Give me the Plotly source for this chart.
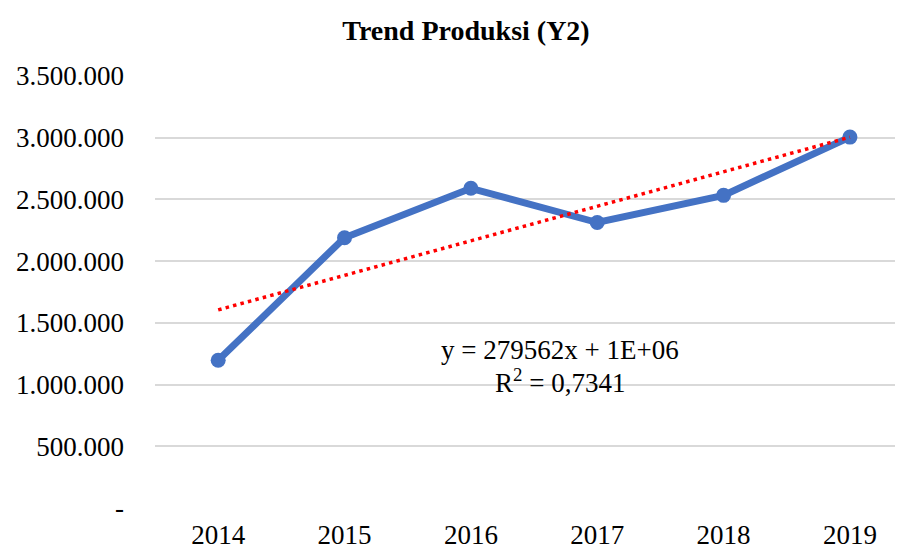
import numpy as np
import plotly.graph_objects as go

years = ["2014", "2015", "2016", "2017", "2018", "2019"]
produksi = [1197000, 2190000, 2590000, 2313000, 2533000, 3005000]
y_tickvals = [0, 500000, 1000000, 1500000, 2000000, 2500000, 3000000, 3500000]
y_ticktext = ["-", "500.000", "1.000.000", "1.500.000", "2.000.000", "2.500.000",
              "3.000.000", "3.500.000"]
eq_text = "y = 279562x + 1E+06"
r2_text = "R<sup>2</sup> = 0,7341"

xi = np.arange(1, len(produksi) + 1)
slope, intercept = np.polyfit(xi, produksi, 1)
trend = slope * xi + intercept

FONT = "Liberation Serif"
BLUE = "#4472C4"

# page body has an 8px margin; figure is sized to fill the rest of the window
W, H = 895, 542

fig = go.Figure()
fig.add_trace(go.Scatter(
    x=years, y=produksi, mode="lines+markers",
    line=dict(color=BLUE, width=7),
    marker=dict(color=BLUE, size=15),
    showlegend=False,
))
fig.add_trace(go.Scatter(
    x=years, y=trend, mode="lines",
    line=dict(color="#FF0000", width=3.5, dash="3.5px,4.2px"),
    showlegend=False,
))

fig.update_layout(
    width=W, height=H,
    margin=dict(l=147, r=0, t=68, b=36),
    paper_bgcolor="white", plot_bgcolor="white",
    font=dict(family=FONT, size=27, color="#000000"),
    title=dict(text="<b>Trend Produksi (Y2)</b>", x=458 / W, xanchor="center",
               y=1 - 22 / H, yanchor="middle", xref="container", yref="container",
               font=dict(family=FONT, size=28, color="#000000")),
    xaxis=dict(type="category", range=[-0.5, 5.42], showgrid=False, zeroline=False,
               showline=False, ticks="", ticklabelstandoff=8,
               tickfont=dict(family=FONT, size=27, color="#000000")),
    yaxis=dict(range=[0, 3500000], tickvals=y_tickvals, ticktext=y_ticktext,
               showgrid=True, gridcolor="#D9D9D9", gridwidth=1.5,
               zeroline=False, showline=False, ticks="", ticklabelstandoff=30,
               tickfont=dict(family=FONT, size=27, color="#000000")),
    annotations=[
        dict(text=eq_text, xref="paper", yref="paper", x=0.5414, y=0.365,
             xanchor="center", yanchor="middle", showarrow=False,
             font=dict(family=FONT, size=27, color="#000000")),
        dict(text=r2_text, xref="paper", yref="paper", x=0.5414, y=0.293,
             xanchor="center", yanchor="middle", showarrow=False,
             font=dict(family=FONT, size=27, color="#000000")),
    ],
)

fig.write_html("out.html")
